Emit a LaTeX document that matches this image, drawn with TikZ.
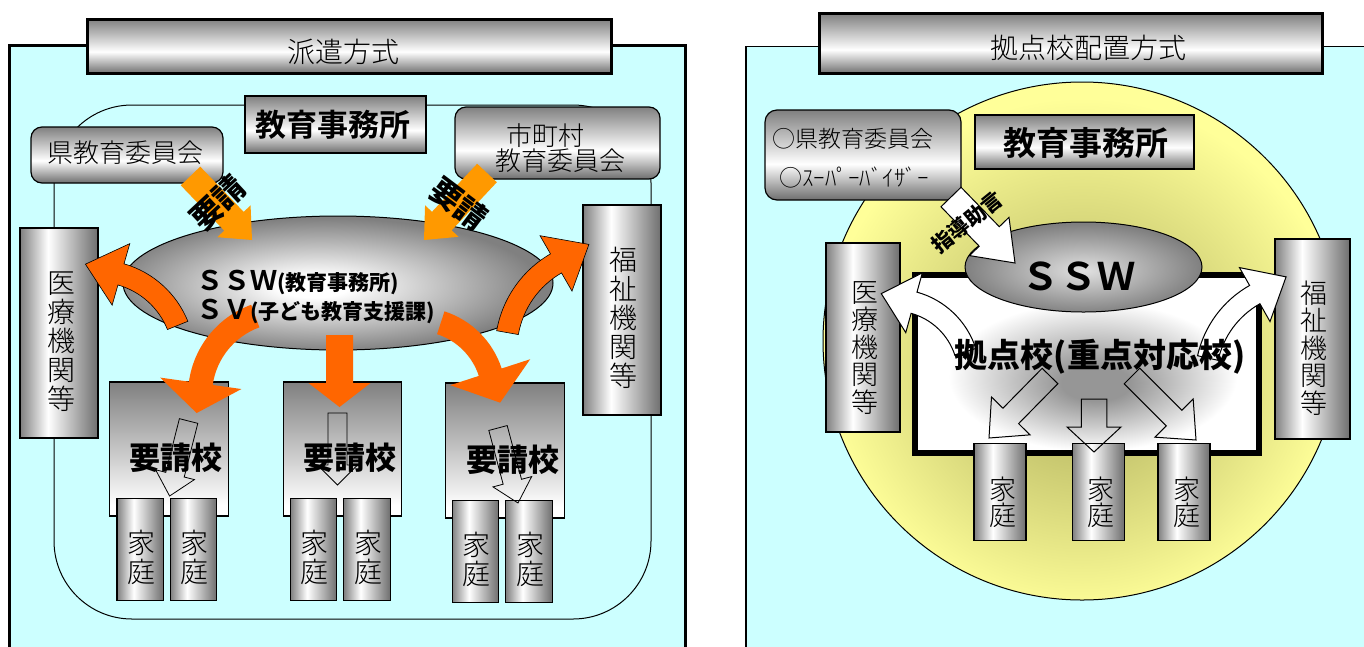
\documentclass[tikz,border=0pt]{standalone}
\usepackage{fontspec}
\usetikzlibrary{calc,shapes.geometric}
\newfontfamily\jp{Noto Sans CJK JP}
\IfFontExistsTF{Noto Sans CJK JP Light}{\newfontfamily\jpl{Noto Sans CJK JP Light}}{\newfontfamily\jpl{Noto Sans CJK JP}}
\IfFontExistsTF{Noto Sans CJK JP Bold}{\newfontfamily\jpb{Noto Sans CJK JP Bold}}{\newfontfamily\jpb[FakeBold=2]{Noto Sans CJK JP}}
\IfFontExistsTF{Noto Sans CJK JP Black}{\newfontfamily\jpk{Noto Sans CJK JP Black}}{\IfFontExistsTF{Noto Sans CJK JP Bold}{\newfontfamily\jpk[FakeBold=1.5]{Noto Sans CJK JP Bold}}{\newfontfamily\jpk[FakeBold=3]{Noto Sans CJK JP}}}
\newcommand\fsz[2]{\fontsize{#1}{#2}\selectfont}

\definecolor{cyanbg}{RGB}{204,255,255}
\definecolor{gedge}{RGB}{128,128,128}
\definecolor{gdark}{RGB}{110,110,110}
\definecolor{gmid}{RGB}{150,150,150}
\definecolor{glight}{RGB}{225,225,225}
\definecolor{org1}{RGB}{255,153,0}
\definecolor{org2}{RGB}{255,102,0}
\definecolor{yel}{RGB}{255,255,153}
\definecolor{olv}{RGB}{200,200,112}

% pgf maps the central 50bp of a shading onto the path's bounding box
\pgfdeclareverticalshading{vgw}{100bp}{color(0bp)=(gdark); color(25bp)=(gdark); color(45bp)=(white); color(75bp)=(gedge); color(100bp)=(gedge)}
\pgfdeclarehorizontalshading{hgw}{100bp}{color(0bp)=(gedge); color(25bp)=(gedge); color(43bp)=(white); color(75bp)=(gdark); color(100bp)=(gdark)}
\pgfdeclareverticalshading{vtw}{100bp}{color(0bp)=(white); color(29bp)=(white); color(75bp)=(gedge); color(100bp)=(gedge)}
\pgfdeclareradialshading{ellw}{\pgfpoint{-3bp}{-1.5bp}}{color(0bp)=(white); color(4bp)=(white); color(25bp)=(gedge); color(50bp)=(gedge)}
\pgfdeclareradialshading{ellr}{\pgfpoint{0bp}{-2bp}}{color(0bp)=(glight); color(25bp)=(gedge); color(50bp)=(gedge)}
\pgfdeclareradialshading{boxr}{\pgfpoint{1.5bp}{-6bp}}{color(0bp)=(gmid); color(5bp)=(gmid); color(21bp)=(white); color(50bp)=(white)}
\pgfdeclareradialshading{yelr}{\pgfpoint{0bp}{-3bp}}{color(0bp)=(olv); color(9bp)=(olv); color(25bp)=(yel); color(50bp)=(yel)}

% straight block arrow: style, start, tip, half shaft width, half head width, head length
\newcommand\blockarr[6]{%
 \coordinate (ba-A) at (#2);
 \coordinate (ba-B) at (#3);
 \coordinate (ba-H) at ($(ba-B)!#6pt!(ba-A)$);
 \path[#1] ($(ba-A)!#4pt!90:(ba-B)$) -- ($(ba-H)!#4pt!90:(ba-B)$) -- ($(ba-H)!#5pt!90:(ba-B)$) -- (ba-B) -- ($(ba-H)!#5pt!-90:(ba-B)$) -- ($(ba-H)!#4pt!-90:(ba-B)$) -- ($(ba-A)!#4pt!-90:(ba-B)$) -- cycle;}
% curved arrow: style, center, radius, start angle, end angle, half w, half head w, head length, +90/-90
\newcommand\curvarr[9]{%
 \pgfmathsetmacro\caRo{#3+#6}\pgfmathsetmacro\caRi{#3-#6}%
 \pgfmathsetmacro\caHo{#3+#7}\pgfmathsetmacro\caHi{#3-#7}%
 \pgfmathsetmacro\caTa{#5+#9}%
 \path[#1] ($(#2)+(#4:\caRo)$) arc[start angle=#4, end angle=#5, radius=\caRo] -- ($(#2)+(#5:\caHo)$) -- ($(#2)+(#5:#3)+(\caTa:#8)$) -- ($(#2)+(#5:\caHi)$) -- ($(#2)+(#5:\caRi)$) arc[start angle=#5, end angle=#4, radius=\caRi] -- cycle;}

\tikzset{
 txt/.style={inner sep=0pt, outer sep=0pt, align=center},
 bx/.style={draw=black, line width=1.2pt, inner sep=0pt, outer sep=0pt},
 vbx/.style={bx, shade, shading=vgw},
 hbx/.style={bx, shade, shading=hgw},
 tbx/.style={bx, shade, shading=vtw},
 titlebx/.style={draw=black, line width=3pt, shade, shading=vgw, inner sep=0pt},
 outl/.style={draw=black, line width=0.8pt},
}

\begin{document}
\begin{tikzpicture}[x=1pt,y=-1pt]
\useasboundingbox (0,0) rectangle (1364,646);
\clip (0,0) rectangle (1364,646);
\fill[white] (0,0) rectangle (1364,646);

% ================= LEFT =================
\draw[fill=cyanbg, line width=3pt] (9.5,45) rectangle (685,700);
\node[titlebx, minimum width=523.5pt, minimum height=54.5pt] (titleL) at (349.25,46.25) {};
\node[txt, font=\jpl\fsz{28}{28}] (titleLt) at (343,52) {派遣方式};
\draw[line width=1pt, rounded corners=78pt] (54,105) rectangle (651,619);
\node[vbx, rounded corners=11pt, minimum width=192pt, minimum height=56pt] (kenL) at (127,155) {};
\node[txt, font=\jpl\fsz{26}{26}] (kenLt) at (125,153) {県教育委員会};
\node[vbx, minimum width=181pt, minimum height=57pt] (jimL) at (335.5,124.5) {};
\node[txt, font=\jpb\fsz{31}{31}] (jimLt) at (333,125) {教育事務所};
\node[vbx, rounded corners=11pt, minimum width=205pt, minimum height=72pt] (shiL) at (557.5,143) {};
\node[txt, font=\jpl\fsz{26}{26}] (shiLt1) at (545,136) {市町村};
\node[txt, font=\jpl\fsz{26}{26}] (shiLt2) at (560,161) {教育委員会};
\node[hbx, minimum width=78pt, minimum height=210pt] (iryoL) at (59,333) {};
\node[txt, font=\jpl\fsz{28}{29}] (iryoLt) at (61,342) {医\\療\\機\\関\\等};
\node[hbx, minimum width=78pt, minimum height=210pt] (fukuL) at (622,310) {};
\node[txt, font=\jpl\fsz{28}{29}] (fukuLt) at (623,318) {福\\祉\\機\\関\\等};
\node[ellipse, draw, line width=1pt, shade, shading=ellw, minimum width=430pt, minimum height=134pt, inner sep=0pt] (ellL) at (338,283) {};
% request arrows
\blockarr{fill=org1}{190.5,176}{252,240}{13.5}{23}{26}
\blockarr{fill=org1}{487,173}{424,240}{13.5}{23}{26}
\node[txt, rotate=43, font=\jpk\fsz{31}{31}] (yoL) at (218,203) {要請};
\node[txt, rotate=-37, font=\jpk\fsz{31}{31}] (yoR) at (459,204) {要請};
% schools
\node[tbx, minimum width=119pt, minimum height=134pt] (sch1) at (169,449) {};
\node[tbx, minimum width=118pt, minimum height=134pt] (sch2) at (342.6,449) {};
\node[tbx, minimum width=119pt, minimum height=135pt] (sch3) at (505,450.5) {};
\foreach \n/\x/\y in {1/140.2/549.5, 2/193.5/549.5, 3/313.6/549.5, 4/367/549.5, 5/475.4/551.5, 6/529/551.5}{
 \node[hbx, minimum width=46.5pt, minimum height=102.5pt] (kL\n) at (\x,\y) {};
 \node[txt, font=\jpl\fsz{28}{28.5}] (kLt\n) at (\x+1,\y+8) {家\\庭};
}
\blockarr{outl}{188.6,421}{169.6,496}{9.5}{20}{22}
\blockarr{outl}{337.5,413}{337.5,485}{9.5}{20}{20}
\blockarr{outl}{498,428}{518,503}{9.5}{20}{22}
\node[txt, font=\jpk\fsz{31}{31}] (sch1t) at (176,458) {要請校};
\node[txt, font=\jpk\fsz{31}{31}] (sch2t) at (350,458) {要請校};
\node[txt, font=\jpk\fsz{31}{31}] (sch3t) at (513,460) {要請校};
% curved orange arrows
\curvarr{fill=org2, draw=black, line width=0.6pt}{97,358}{87}{-22}{-74}{11}{32}{37}{-90}
\curvarr{fill=org2, draw=black, line width=0.6pt}{606,350}{100}{-170}{-120}{11}{32}{38}{90}
\curvarr{fill=org2}{284,395}{84}{-110}{-172}{12}{41}{30}{-90}
\blockarr{fill=org2}{339.5,335}{339.5,407}{13.5}{31}{24}
\curvarr{fill=org2}{417,396}{77}{-72}{-18}{12}{42}{32}{90}
\node[txt, anchor=base west] (sswL) at (196,290) {\jpb\fsz{27}{27}ＳＳＷ\jpk\fsz{21}{21}(教育事務所)};
\node[txt, anchor=base west] (svL) at (196,319) {\jpb\fsz{27}{27}ＳＶ\jpk\fsz{21}{21}(子ども教育支援課)};

% ================= RIGHT =================
\draw[fill=cyanbg, line width=1.5pt] (746,46.7) rectangle (1400,700);
\node[titlebx, minimum width=503.5pt, minimum height=60pt] (titleR) at (1070.75,43.7) {};
\node[txt, font=\jpl\fsz{28}{28}] (titleRt) at (1088,48) {拠点校配置方式};
\node[circle, draw, line width=1pt, shade, shading=yelr, minimum size=518pt, inner sep=0pt] (circ) at (1082,341) {};
\node[vbx, rounded corners=12pt, minimum width=196pt, minimum height=90pt] (kenR) at (863,155) {};
\node[txt, font=\jpl\fsz{23}{23}] (kenRt1) at (853,139) {○県教育委員会};
\node[txt, font=\jpl\fsz{23}{23}] (kenRt2) at (854,178) {○ｽｰﾊﾟｰﾊﾞｲｻﾞｰ};
\node[vbx, minimum width=219pt, minimum height=54pt] (jimR) at (1084.5,142) {};
\node[txt, font=\jpb\fsz{33}{33}] (jimRt) at (1086,143) {教育事務所};
\node[hbx, minimum width=74pt, minimum height=189pt] (iryoR) at (863,337.5) {};
\node[txt, font=\jpl\fsz{27}{27.5}] (iryoRt) at (865,348) {医\\療\\機\\関\\等};
\node[hbx, minimum width=75pt, minimum height=200pt] (fukuR) at (1312.5,339) {};
\node[txt, font=\jpl\fsz{27}{27.5}] (fukuRt) at (1314,348) {福\\祉\\機\\関\\等};
\node[draw, line width=6pt, shade, shading=boxr, minimum width=343.5pt, minimum height=178pt, inner sep=0pt] (kyo) at (1086.75,364) {};
\foreach \n/\x in {1/1000, 2/1098.3, 3/1184}{
 \node[hbx, minimum width=52pt, minimum height=97.5pt] (kR\n) at (\x,492) {};
 \node[txt, font=\jpl\fsz{27}{26}] (kRt\n) at (\x+2.5,502.5) {家\\庭};
}
\blockarr{draw=black, line width=1pt}{1050,376}{989,438}{11}{27}{31}
\blockarr{draw=black, line width=1pt}{1094,399}{1094,452}{12.75}{27}{25}
\blockarr{draw=black, line width=1pt}{1132,376}{1196,440}{11}{27}{31}
\node[ellipse, draw, line width=1pt, shade, shading=ellr, minimum width=237pt, minimum height=90pt, inner sep=0pt] (ellR) at (1083.5,267) {};
\blockarr{fill=white, draw=black, line width=1pt}{951,197}{1015,263}{14}{27.5}{37}
\node[txt, rotate=39, font=\jpk\fsz{21}{21}] (shido) at (967,222) {指導助言};
\curvarr{fill=white, draw=black, line width=1pt}{894,375}{75}{-18}{-74.5}{11}{31}{34}{-90}
\curvarr{fill=white, draw=black, line width=1pt}{1302.5,379}{97}{-167.5}{-119.5}{10.5}{31}{36}{90}
\node[txt, font=\jpb\fsz{38}{38}] (sswR) at (1078,276) {ＳＳＷ};
\node[txt, font=\jpk\fsz{33}{33}] (kyot) at (1100,357) {拠点校(重点対応校)};
\end{tikzpicture}
\end{document}
